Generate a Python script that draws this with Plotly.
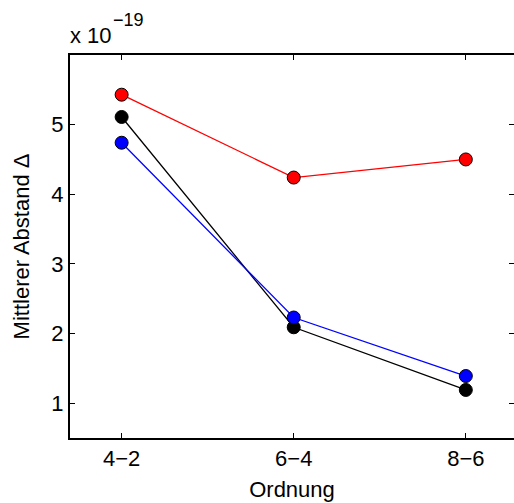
import plotly.graph_objects as go

categories = ["4\u22122", "6\u22124", "8\u22126"]
x_pos = [1, 2, 3]
black_vals = [5.11, 2.09, 1.19]
blue_vals = [4.74, 2.23, 1.39]
red_vals = [5.43, 4.24, 4.50]
y_ticks = [1, 2, 3, 4, 5]

FONT = "Liberation Sans, Arial, Helvetica, sans-serif"
FS = 22

fig = go.Figure()
for vals, col in [(black_vals, "black"), (blue_vals, "#0000ff"), (red_vals, "#ff0000")]:
    fig.add_trace(go.Scatter(
        x=x_pos, y=vals, mode="lines+markers",
        line=dict(color=col, width=1.3),
        marker=dict(color=col, size=13, line=dict(color="black", width=1)),
        showlegend=False, cliponaxis=False,
    ))
# invisible helper trace for right-hand tick marks
fig.add_trace(go.Scatter(x=[x_pos[0]], y=[y_ticks[0]], yaxis="y2", mode="markers",
                         marker=dict(opacity=0), showlegend=False, hoverinfo="skip"))

fig.update_layout(
    width=514, height=503,
    margin=dict(l=70, r=0, t=55, b=65),
    paper_bgcolor="white", plot_bgcolor="white",
    font=dict(family=FONT, size=FS, color="black"),
    xaxis=dict(
        range=[0.7, 3.28], tickvals=x_pos, ticktext=categories,
        showline=True, linecolor="black", linewidth=2, mirror="ticks",
        ticks="inside", ticklen=5, tickwidth=1, tickcolor="black",
        showgrid=False, zeroline=False, tickfont=dict(size=FS),
        title=dict(text="Ordnung", standoff=11, font=dict(size=FS)),
    ),
    yaxis=dict(
        range=[0.5, 6.0], tickvals=y_ticks,
        showline=True, linecolor="black", linewidth=2, mirror=False,
        ticks="inside", ticklen=5, tickwidth=1, tickcolor="black",
        showgrid=False, zeroline=False, tickfont=dict(size=FS),
        title=dict(text="Mittlerer Abstand \u0394", standoff=16, font=dict(size=FS)),
    ),
    yaxis2=dict(
        range=[0.5, 6.0], tickvals=y_ticks, overlaying="y", side="right",
        showline=False, ticks="inside", ticklen=5, tickwidth=1, tickcolor="black",
        showticklabels=False, showgrid=False, zeroline=False,
    ),
    annotations=[
        dict(text="x 10", xref="paper", yref="paper",
             x=0, y=1, xanchor="left", yanchor="middle", xshift=-2, yshift=20,
             showarrow=False, font=dict(size=FS)),
        dict(text="\u221219", xref="paper", yref="paper",
             x=0, y=1, xanchor="left", yanchor="middle", xshift=41, yshift=35,
             showarrow=False, font=dict(size=18)),
    ],
)

fig.write_html("out.html")
